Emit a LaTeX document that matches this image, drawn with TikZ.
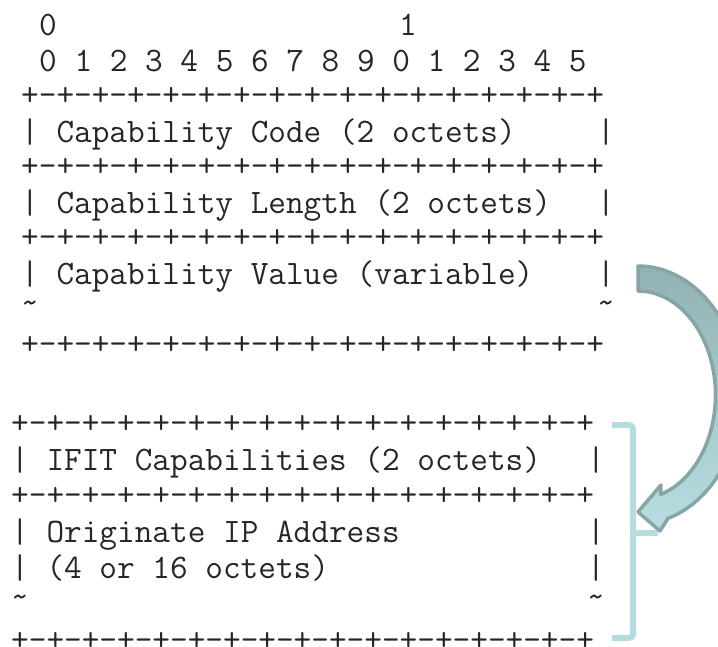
\documentclass[tikz,border=0pt]{standalone}
\usepackage{fontspec}
\definecolor{flechebord}{HTML}{87A5A7}
\definecolor{flechehaut}{HTML}{93B1B2}
\definecolor{flechebas}{HTML}{B8DEE1}
\definecolor{crochet}{HTML}{B5DCDF}
\newcommand{\bordure}{+-+-+-+-+-+-+-+-+-+-+-+-+-+-+-+-+}

\begin{document}
\begin{tikzpicture}[x=1pt,y=-1pt,
  ascii/.style={font=\ttfamily\fontsize{34.29}{40}\selectfont,anchor=base west,inner sep=0pt,text=black!85}]

\useasboundingbox (0,0) rectangle (718,647) ;
\clip (0,0) rectangle (718,647) ;

% en-tete des bits

\node[ascii] (bit_dix_a) at (39,36) {0} ;
\node[ascii] (bit_dix_b) at (399,36) {1} ;
\node[ascii] (bit_unit) at (39,71.5) {0 1 2 3 4 5 6 7 8 9 0 1 2 3 4 5} ;

% bloc capability

\node[ascii] (cap_haut) at (21,106) {\bordure} ;
\node[ascii] (cap_code) at (21,142.5) {| Capability Code (2 octets)} ;
\node[ascii] (cap_code_d) at (597,142.5) {|} ;
\node[ascii] (cap_sep_a) at (21,177) {\bordure} ;
\node[ascii] (cap_long) at (21,213.5) {| Capability Length (2 octets)} ;
\node[ascii] (cap_long_d) at (597,213.5) {|} ;
\node[ascii] (cap_sep_b) at (21,248) {\bordure} ;
\node[ascii] (cap_val) at (21,284.5) {| Capability Value (variable)} ;
\node[ascii] (cap_val_d) at (597,284.5) {|} ;
\node[ascii] (cap_tilde) at (21,313) {\textasciitilde} ;
\node[ascii] (cap_tilde_d) at (597,313) {\textasciitilde} ;
\node[ascii] (cap_bas) at (21,354.5) {\bordure} ;

% bloc IFIT

\node[ascii] (ifit_haut) at (11,433) {\bordure} ;
\node[ascii] (ifit_cap) at (11,470.2) {| IFIT Capabilities (2 octets)} ;
\node[ascii] (ifit_cap_d) at (587,470.2) {|} ;
\node[ascii] (ifit_sep) at (11,505.4) {\bordure} ;
\node[ascii] (ifit_ip) at (11,542.6) {| Originate IP Address} ;
\node[ascii] (ifit_ip_d) at (587,542.6) {|} ;
\node[ascii] (ifit_oct) at (11,578.8) {| (4 or 16 octets)} ;
\node[ascii] (ifit_oct_d) at (587,578.8) {|} ;
\node[ascii] (ifit_tilde) at (11,607) {\textasciitilde} ;
\node[ascii] (ifit_tilde_d) at (587,607) {\textasciitilde} ;
\node[ascii] (ifit_bas) at (11,650) {\bordure} ;

% crochet

\coordinate (cro_haut) at (612,425) ;
\coordinate (cro_bas) at (612,638) ;
\coordinate (cro_mil) at (633,533) ;
\draw[crochet,line width=6pt,rounded corners=4pt] (cro_haut) -- (633,425) -- (633,638) -- (cro_bas) ;
\draw[crochet,line width=6pt] (cro_mil) -- (658,533) ;

% fleche courbe

\coordinate (fl_pointe) at (638,512) ;
\draw[line width=3.5pt,line join=round,draw=flechebord,top color=flechehaut,bottom color=flechebas]
  plot[domain=-90:73,samples=60] ({638+102.5*cos(\x)},{395+129*sin(\x)})
  -- (660,531) -- (fl_pointe) -- (661,485)
  -- plot[domain=73:-90,samples=60] ({638+77.5*cos(\x)},{395+104*sin(\x)})
  -- cycle ;

\end{tikzpicture}
\end{document}
